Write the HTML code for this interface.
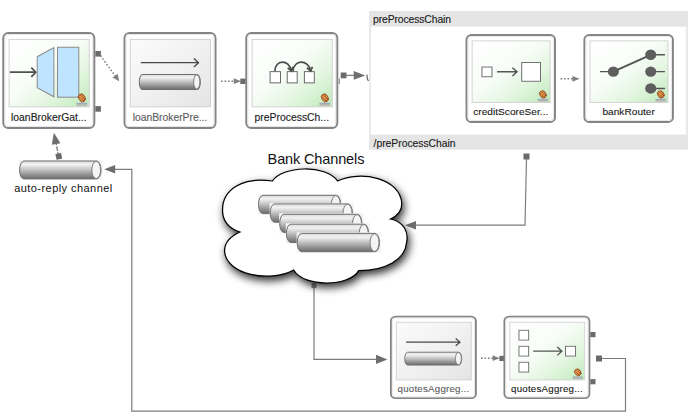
<!DOCTYPE html>
<html><head><meta charset="utf-8"><title>Loan Broker</title>
<style>
html,body{margin:0;padding:0;background:#ffffff;}
body{width:688px;height:419px;overflow:hidden;font-family:"Liberation Sans",sans-serif;}
svg{display:block;}
text{font-family:"Liberation Sans",sans-serif;}
</style></head><body>
<svg width="688" height="419" viewBox="0 0 688 419">
<defs>
<linearGradient id="greenG" x1="0" y1="0" x2="1" y2="1">
<stop offset="0" stop-color="#ffffff"/><stop offset="0.42" stop-color="#f9fdf9"/><stop offset="0.7" stop-color="#e3f6e0"/><stop offset="1" stop-color="#bde9b8"/>
</linearGradient>
<linearGradient id="greyG" x1="0" y1="0" x2="1" y2="1">
<stop offset="0" stop-color="#fbfbfb"/><stop offset="0.5" stop-color="#f1f1f1"/><stop offset="1" stop-color="#e4e4e4"/>
</linearGradient>
<linearGradient id="cylG" x1="0" y1="0" x2="0" y2="1">
<stop offset="0" stop-color="#d9d9d9"/><stop offset="0.2" stop-color="#f2f2f2"/><stop offset="0.45" stop-color="#c9c9c9"/><stop offset="0.8" stop-color="#8c8c8c"/><stop offset="1" stop-color="#6c6c6c"/>
</linearGradient>
<radialGradient id="beanG" cx="0.45" cy="0.4" r="0.65">
<stop offset="0" stop-color="#d58438"/><stop offset="0.6" stop-color="#b4561c"/><stop offset="1" stop-color="#7e3410"/>
</radialGradient>
<filter id="cloudSh" x="-15%" y="-20%" width="135%" height="145%">
<feGaussianBlur in="SourceAlpha" stdDeviation="4.2"/>
<feOffset dx="2.4" dy="4.2" result="o"/>
<feComponentTransfer><feFuncA type="linear" slope="0.82"/></feComponentTransfer>
<feMerge><feMergeNode/><feMergeNode in="SourceGraphic"/></feMerge>
</filter>
<clipPath id="beanClip"><ellipse transform="translate(72.8,58.3) rotate(-32)" cx="0" cy="0" rx="2.9" ry="3.85"/></clipPath>
</defs>
<rect x="369" y="11" width="319" height="138.5" fill="#e9e9e9"/>
<rect x="371" y="26.4" width="314.8" height="108.4" fill="#ffffff"/>
<rect x="369" y="11" width="319" height="15.4" fill="#e5e5e5"/>
<rect x="369" y="134.8" width="319" height="14.7" fill="#e5e5e5"/>
<text x="373" y="23.1" font-size="10.4" fill="#1a1a1a" stroke="#1a1a1a" stroke-width="0.12" textLength="78" lengthAdjust="spacing">preProcessChain</text>
<text x="373.6" y="146.5" font-size="10.4" fill="#1a1a1a" stroke="#1a1a1a" stroke-width="0.12" textLength="82" lengthAdjust="spacing">/preProcessChain</text>
<rect x="95.30" y="51.00" width="5.6" height="5.6" fill="#6a6a6a"/>
<rect x="95.30" y="106.10" width="5.6" height="5.6" fill="#6a6a6a"/>
<path d="M100.5,55.5 L116.2,77.3" stroke="#7c7c7c" stroke-width="1.5" stroke-dasharray="1.6,1.9" fill="none"/>
<path d="M119.20,81.20 L112.51,77.39 L117.71,73.65 Z" fill="#808080"/>
<path d="M221,81.2 H234" stroke="#7c7c7c" stroke-width="1.5" stroke-dasharray="1.6,1.9" fill="none"/>
<path d="M241.20,81.20 L233.70,84.10 L233.70,78.30 Z" fill="#808080"/>
<rect x="240.30" y="78.60" width="5.4" height="5.4" fill="#6a6a6a"/>
<rect x="338.7" y="78.4" width="1.2" height="5.8" fill="#8e8e8e"/>
<rect x="340.70" y="72.50" width="5.8" height="5.8" fill="#6a6a6a"/>
<path d="M346,75.4 H356" stroke="#7c7c7c" stroke-width="1.3" fill="none"/>
<path d="M365.20,75.40 L353.70,79.80 L353.70,71.00 Z" fill="#6e6e6e"/>
<path d="M366.9,74.6 L367.5,79.4 L368.6,80.8" stroke="#707070" stroke-width="1.3" fill="none"/>
<path d="M560.5,78.8 H573" stroke="#7c7c7c" stroke-width="1.5" stroke-dasharray="1.6,1.9" fill="none"/>
<path d="M579.60,78.80 L572.40,81.70 L572.40,75.90 Z" fill="#808080"/>
<rect x="523.50" y="153.50" width="6" height="6" fill="#6a6a6a"/>
<path d="M526.5,159 L525,225.2 H415" stroke="#7c7c7c" stroke-width="1.2" fill="none"/>
<path d="M405.00,225.20 L416.00,220.90 L416.00,229.50 Z" fill="#6e6e6e"/>
<rect x="311.50" y="283.10" width="5.0" height="5.0" fill="#858585"/>
<path d="M314,286 V359.4 H377" stroke="#7c7c7c" stroke-width="1.2" fill="none"/>
<path d="M387.40,359.40 L376.00,364.00 L376.00,354.80 Z" fill="#6e6e6e"/>
<path d="M481,358.2 H493" stroke="#7c7c7c" stroke-width="1.5" stroke-dasharray="1.6,1.9" fill="none"/>
<path d="M499.80,358.20 L492.60,361.10 L492.60,355.30 Z" fill="#808080"/>
<rect x="499.40" y="355.80" width="5.2" height="5.2" fill="#6a6a6a"/>
<rect x="590.30" y="332.00" width="5.2" height="5.2" fill="#6a6a6a"/>
<rect x="590.30" y="379.10" width="5.2" height="5.2" fill="#6a6a6a"/>
<rect x="596.00" y="355.50" width="6" height="6" fill="#6a6a6a"/>
<path d="M602,358.5 H625.5 V411.2 H131.8 V169.3 H114" stroke="#7c7c7c" stroke-width="1.2" fill="none"/>
<path d="M104.20,169.30 L115.20,165.10 L115.20,173.50 Z" fill="#6e6e6e"/>
<path d="M58.6,156.4 L55.6,141" stroke="#7c7c7c" stroke-width="1.3" stroke-dasharray="4.5,1.2" fill="none"/>
<path d="M53.90,132.80 L60.43,143.13 L51.79,144.84 Z" fill="#6e6e6e"/>
<rect x="55.90" y="153.50" width="5.8" height="5.8" fill="#6a6a6a" transform="rotate(-11 58.8 156.4)"/>
<g transform="translate(3.30,33.00) scale(1.0000,1.0032)">
<rect x="0" y="0" width="91.0" height="94.8" rx="5" ry="5" fill="#ffffff" stroke="#848484" stroke-width="2"/>
<rect x="1.6" y="1.6" width="87.8" height="91.6" rx="3.4" ry="3.4" fill="none" stroke="#e6e6e6" stroke-width="1"/>
<rect x="5.8" y="6.4" width="80.2" height="67.2" fill="url(#greenG)" stroke="#d2d2d2" stroke-width="1"/>
<g transform="translate(5.8,6.4)">
<g stroke-linejoin="miter">
<path d="M0.8,32.7 H26.4 M22.2,28.2 L26.7,32.7 L22.2,37.4" stroke="#505050" stroke-width="1.7" fill="none"/>
<path d="M28.1,17.3 L44.8,8.2 V57.2 L28.1,48.1 Z" fill="#bfe4ff" stroke="#8a8a8a" stroke-width="1"/>
<rect x="48.4" y="7.8" width="21.3" height="49.8" fill="#bfe4ff" stroke="#8a8a8a" stroke-width="1"/>
</g>
<g>
<rect x="67.4" y="63.8" width="10.6" height="2.4" fill="#bab6b2"/>
<rect x="67.4" y="63.2" width="10.6" height="0.9" fill="#929dc0"/>
<rect x="72.4" y="61.4" width="0.9" height="2.2" fill="#c9ad88"/>
<ellipse transform="translate(72.8,58.3) rotate(-32)" cx="0" cy="0" rx="3.2" ry="4.15" fill="url(#beanG)" stroke="#8a3c14" stroke-width="0.7"/>
<path d="M67.49,56.85 L75.15,63.28 M68.84,55.24 L76.50,61.67 M70.26,53.55 L77.92,59.98 " stroke="#f3c680" stroke-width="0.85" fill="none" opacity="0.9" clip-path="url(#beanClip)"/>
</g>
</g>
<text x="45.5" y="87.8" text-anchor="middle" font-size="10.4" fill="#1a1a1a" stroke="#1a1a1a" stroke-width="0.12" textLength="75.5" lengthAdjust="spacing">loanBrokerGat...</text>
</g>
<g transform="translate(124.50,33.00) scale(1.0000,1.0032)">
<rect x="0" y="0" width="91.0" height="94.8" rx="5" ry="5" fill="#ffffff" stroke="#848484" stroke-width="2"/>
<rect x="1.6" y="1.6" width="87.8" height="91.6" rx="3.4" ry="3.4" fill="none" stroke="#e6e6e6" stroke-width="1"/>
<rect x="5.8" y="6.4" width="80.2" height="67.2" fill="url(#greyG)" stroke="#d2d2d2" stroke-width="1"/>
<g transform="translate(5.8,6.4)">
<path d="M10.5,23.2 H68.0 M63.6,19.0 L68.2,23.2 L63.6,27.4" stroke="#484848" stroke-width="1.35" fill="none"/><path d="M12.15,34.90 H66.85 A3.15,7.50 0 0 1 66.85,49.90 H12.15 A3.15,7.50 0 0 1 12.15,34.90 Z" fill="url(#cylG)" stroke="#6e6e6e" stroke-width="1"/><ellipse cx="66.45" cy="42.40" rx="3.15" ry="7.20" fill="#f4f4f4" stroke="#7c7c7c" stroke-width="1"/>
</g>
<text x="45.5" y="87.8" text-anchor="middle" font-size="10.4" fill="#5c5c5c" stroke="#5c5c5c" stroke-width="0.12" textLength="74.5" lengthAdjust="spacing">loanBrokerPre...</text>
</g>
<g transform="translate(246.30,33.00) scale(1.0000,1.0032)">
<rect x="0" y="0" width="91.0" height="94.8" rx="5" ry="5" fill="#ffffff" stroke="#848484" stroke-width="2"/>
<rect x="1.6" y="1.6" width="87.8" height="91.6" rx="3.4" ry="3.4" fill="none" stroke="#e6e6e6" stroke-width="1"/>
<rect x="5.8" y="6.4" width="80.2" height="67.2" fill="url(#greenG)" stroke="#d2d2d2" stroke-width="1"/>
<g transform="translate(5.8,6.4)">
<g fill="#ffffff" stroke="#6a6a6a" stroke-width="1">
<rect x="18.0" y="32.1" width="10.4" height="11.2"/>
<rect x="35.1" y="32.1" width="10.0" height="11.2"/>
<rect x="52.3" y="32.1" width="9.9" height="11.2"/>
</g>
<g fill="none" stroke="#4a4a4a" stroke-width="1.7">
<path d="M22.8,31.6 C22.8,20 37,19.5 39.1,31.2"/>
<path d="M35.6,28.4 L39.3,31.6 L41.0,27.2"/>
<path d="M40.9,31.6 C41.5,20 56,19.5 58.4,31.2"/>
<path d="M54.8,28.4 L58.6,31.6 L60.3,27.2"/>
</g>
<g>
<rect x="67.4" y="63.8" width="10.6" height="2.4" fill="#bab6b2"/>
<rect x="67.4" y="63.2" width="10.6" height="0.9" fill="#929dc0"/>
<rect x="72.4" y="61.4" width="0.9" height="2.2" fill="#c9ad88"/>
<ellipse transform="translate(72.8,58.3) rotate(-32)" cx="0" cy="0" rx="3.2" ry="4.15" fill="url(#beanG)" stroke="#8a3c14" stroke-width="0.7"/>
<path d="M67.49,56.85 L75.15,63.28 M68.84,55.24 L76.50,61.67 M70.26,53.55 L77.92,59.98 " stroke="#f3c680" stroke-width="0.85" fill="none" opacity="0.9" clip-path="url(#beanClip)"/>
</g>
</g>
<text x="45.5" y="87.8" text-anchor="middle" font-size="10.4" fill="#1a1a1a" stroke="#1a1a1a" stroke-width="0.12" textLength="74.5" lengthAdjust="spacing">preProcessCh...</text>
</g>
<g transform="translate(466.50,35.00) scale(0.9725,0.9177)">
<rect x="0" y="0" width="91.0" height="94.8" rx="5" ry="5" fill="#ffffff" stroke="#848484" stroke-width="2"/>
<rect x="1.6" y="1.6" width="87.8" height="91.6" rx="3.4" ry="3.4" fill="none" stroke="#e6e6e6" stroke-width="1"/>
<rect x="5.8" y="6.4" width="80.2" height="67.2" fill="url(#greenG)" stroke="#d2d2d2" stroke-width="1"/>
<g transform="translate(5.8,6.4)">
<g fill="#ffffff" stroke="#6a6a6a" stroke-width="1">
<rect x="10.1" y="28.5" width="10.3" height="10.6"/>
<rect x="51.0" y="23.6" width="19.3" height="20.4"/>
</g>
<path d="M25.6,33.7 H45.9 M41.4,29.2 L46.2,33.7 L41.4,38.2" stroke="#555555" stroke-width="1.5" fill="none"/>
<g>
<rect x="67.4" y="63.8" width="10.6" height="2.4" fill="#bab6b2"/>
<rect x="67.4" y="63.2" width="10.6" height="0.9" fill="#929dc0"/>
<rect x="72.4" y="61.4" width="0.9" height="2.2" fill="#c9ad88"/>
<ellipse transform="translate(72.8,58.3) rotate(-32)" cx="0" cy="0" rx="3.2" ry="4.15" fill="url(#beanG)" stroke="#8a3c14" stroke-width="0.7"/>
<path d="M67.49,56.85 L75.15,63.28 M68.84,55.24 L76.50,61.67 M70.26,53.55 L77.92,59.98 " stroke="#f3c680" stroke-width="0.85" fill="none" opacity="0.9" clip-path="url(#beanClip)"/>
</g>
</g>
<text x="45.5" y="86.9" text-anchor="middle" font-size="10.4" fill="#1a1a1a" stroke="#1a1a1a" stroke-width="0.12" textLength="77.3" lengthAdjust="spacing">creditScoreSer...</text>
</g>
<g transform="translate(584.40,35.00) scale(0.9725,0.9177)">
<rect x="0" y="0" width="91.0" height="94.8" rx="5" ry="5" fill="#ffffff" stroke="#848484" stroke-width="2"/>
<rect x="1.6" y="1.6" width="87.8" height="91.6" rx="3.4" ry="3.4" fill="none" stroke="#e6e6e6" stroke-width="1"/>
<rect x="5.8" y="6.4" width="80.2" height="67.2" fill="url(#greenG)" stroke="#d2d2d2" stroke-width="1"/>
<g transform="translate(5.8,6.4)">
<g stroke="#555555" stroke-width="1.6" fill="none">
<path d="M10.3,33.5 H24 M62.4,15.2 H77 M62.4,33.5 H77 M62.4,51.8 H77"/><path d="M24,33.5 L62.4,15.2" stroke-width="2"/>
</g>
<g fill="#5e5e5e">
<circle cx="24" cy="33.5" r="5.7"/>
<circle cx="62.4" cy="15.2" r="5.7"/>
<circle cx="62.4" cy="33.5" r="5.7"/>
<circle cx="62.4" cy="51.8" r="5.7"/>
</g>
<g>
<rect x="67.4" y="63.8" width="10.6" height="2.4" fill="#bab6b2"/>
<rect x="67.4" y="63.2" width="10.6" height="0.9" fill="#929dc0"/>
<rect x="72.4" y="61.4" width="0.9" height="2.2" fill="#c9ad88"/>
<ellipse transform="translate(72.8,58.3) rotate(-32)" cx="0" cy="0" rx="3.2" ry="4.15" fill="url(#beanG)" stroke="#8a3c14" stroke-width="0.7"/>
<path d="M67.49,56.85 L75.15,63.28 M68.84,55.24 L76.50,61.67 M70.26,53.55 L77.92,59.98 " stroke="#f3c680" stroke-width="0.85" fill="none" opacity="0.9" clip-path="url(#beanClip)"/>
</g>
</g>
<text x="45.5" y="86.9" text-anchor="middle" font-size="10.4" fill="#1a1a1a" stroke="#1a1a1a" stroke-width="0.12" textLength="54.0" lengthAdjust="spacing">bankRouter</text>
</g>
<g transform="translate(390.90,316.70) scale(0.9341,0.8597)">
<rect x="0" y="0" width="91.0" height="94.8" rx="5" ry="5" fill="#ffffff" stroke="#848484" stroke-width="2"/>
<rect x="1.6" y="1.6" width="87.8" height="91.6" rx="3.4" ry="3.4" fill="none" stroke="#e6e6e6" stroke-width="1"/>
<rect x="5.8" y="6.4" width="80.2" height="67.2" fill="url(#greyG)" stroke="#d2d2d2" stroke-width="1"/>
<g transform="translate(5.8,6.4)">
<path d="M10.5,23.2 H68.0 M63.6,19.0 L68.2,23.2 L63.6,27.4" stroke="#484848" stroke-width="1.35" fill="none"/><path d="M12.15,34.90 H66.85 A3.15,7.50 0 0 1 66.85,49.90 H12.15 A3.15,7.50 0 0 1 12.15,34.90 Z" fill="url(#cylG)" stroke="#6e6e6e" stroke-width="1"/><ellipse cx="66.45" cy="42.40" rx="3.15" ry="7.20" fill="#f4f4f4" stroke="#7c7c7c" stroke-width="1"/>
</g>
<text x="45.5" y="87.8" text-anchor="middle" font-size="10.4" fill="#5c5c5c" stroke="#5c5c5c" stroke-width="0.12" textLength="76.6" lengthAdjust="spacing">quotesAggreg...</text>
</g>
<g transform="translate(504.40,316.70) scale(0.9341,0.8597)">
<rect x="0" y="0" width="91.0" height="94.8" rx="5" ry="5" fill="#ffffff" stroke="#848484" stroke-width="2"/>
<rect x="1.6" y="1.6" width="87.8" height="91.6" rx="3.4" ry="3.4" fill="none" stroke="#e6e6e6" stroke-width="1"/>
<rect x="5.8" y="6.4" width="80.2" height="67.2" fill="url(#greenG)" stroke="#d2d2d2" stroke-width="1"/>
<g transform="translate(5.8,6.4)">
<g fill="#ffffff" stroke="#6a6a6a" stroke-width="1">
<rect x="9.8" y="9.4" width="10.4" height="11.4"/>
<rect x="9.8" y="28.0" width="10.4" height="11.4"/>
<rect x="9.8" y="46.6" width="10.4" height="11.4"/>
<rect x="59.6" y="28.0" width="10.8" height="11.4"/>
</g>
<path d="M25,33.7 H55.4 M50.8,28.8 L55.7,33.7 L50.8,38.6" stroke="#555555" stroke-width="1.5" fill="none"/>
<g>
<rect x="67.4" y="63.8" width="10.6" height="2.4" fill="#bab6b2"/>
<rect x="67.4" y="63.2" width="10.6" height="0.9" fill="#929dc0"/>
<rect x="72.4" y="61.4" width="0.9" height="2.2" fill="#c9ad88"/>
<ellipse transform="translate(72.8,58.3) rotate(-32)" cx="0" cy="0" rx="3.2" ry="4.15" fill="url(#beanG)" stroke="#8a3c14" stroke-width="0.7"/>
<path d="M67.49,56.85 L75.15,63.28 M68.84,55.24 L76.50,61.67 M70.26,53.55 L77.92,59.98 " stroke="#f3c680" stroke-width="0.85" fill="none" opacity="0.9" clip-path="url(#beanClip)"/>
</g>
</g>
<text x="45.5" y="87.8" text-anchor="middle" font-size="10.4" fill="#1a1a1a" stroke="#1a1a1a" stroke-width="0.12" textLength="76.6" lengthAdjust="spacing">quotesAggreg...</text>
</g>
<rect x="19.0" y="160.0" width="83.4" height="19.9" fill="#f3f3f3"/><path d="M23.99,161.00 H96.61 A4.39,8.95 0 0 1 96.61,178.90 H23.99 A4.39,8.95 0 0 1 23.99,161.00 Z" fill="url(#cylG)" stroke="#6e6e6e" stroke-width="1"/><ellipse cx="96.21" cy="169.95" rx="4.39" ry="8.65" fill="#f4f4f4" stroke="#7c7c7c" stroke-width="1"/><text x="14.2" y="191.6" font-size="11" fill="#111111" textLength="98" lengthAdjust="spacing">auto-reply channel</text>
<text x="267.6" y="164.2" font-size="14.5" fill="#111111" textLength="96.8" lengthAdjust="spacing">Bank Channels</text>
<path d="M272.5,181 C282,166 326,164 337.5,181 C360,170 401,178 401.8,204 C401.8,212 397,216 390.5,219 C404,222 409,232 406.5,243 C405,259.5 386,270.5 358.7,270.6 C350,286.5 304,288 293.7,270 C270,283 226,275 224.5,251 C224.5,242 231,236 240,232 C229,228.5 222.5,221 222.5,210 C222.5,190 242,176.5 272.5,181 Z" fill="#ffffff" stroke="#000000" stroke-width="1.25" filter="url(#cloudSh)"/>
<rect x="257.9" y="194.3" width="84.2" height="20.3" fill="#f3f3f3"/><path d="M262.98,195.30 H336.22 A4.48,9.15 0 0 1 336.22,213.60 H262.98 A4.48,9.15 0 0 1 262.98,195.30 Z" fill="url(#cylG)" stroke="#6e6e6e" stroke-width="1"/><ellipse cx="335.82" cy="204.45" rx="4.48" ry="8.85" fill="#f4f4f4" stroke="#7c7c7c" stroke-width="1"/><rect x="269.6" y="202.9" width="84.2" height="20.3" fill="#f3f3f3"/><path d="M274.68,203.90 H347.92 A4.48,9.15 0 0 1 347.92,222.20 H274.68 A4.48,9.15 0 0 1 274.68,203.90 Z" fill="url(#cylG)" stroke="#6e6e6e" stroke-width="1"/><ellipse cx="347.52" cy="213.05" rx="4.48" ry="8.85" fill="#f4f4f4" stroke="#7c7c7c" stroke-width="1"/><rect x="279.1" y="213.3" width="84.2" height="20.3" fill="#f3f3f3"/><path d="M284.18,214.30 H357.42 A4.48,9.15 0 0 1 357.42,232.60 H284.18 A4.48,9.15 0 0 1 284.18,214.30 Z" fill="url(#cylG)" stroke="#6e6e6e" stroke-width="1"/><ellipse cx="357.02" cy="223.45" rx="4.48" ry="8.85" fill="#f4f4f4" stroke="#7c7c7c" stroke-width="1"/><rect x="285.8" y="223.2" width="84.2" height="20.3" fill="#f3f3f3"/><path d="M290.88,224.20 H364.12 A4.48,9.15 0 0 1 364.12,242.50 H290.88 A4.48,9.15 0 0 1 290.88,224.20 Z" fill="url(#cylG)" stroke="#6e6e6e" stroke-width="1"/><ellipse cx="363.72" cy="233.35" rx="4.48" ry="8.85" fill="#f4f4f4" stroke="#7c7c7c" stroke-width="1"/><rect x="296.6" y="232.4" width="84.2" height="20.3" fill="#f3f3f3"/><path d="M301.68,233.40 H374.92 A4.48,9.15 0 0 1 374.92,251.70 H301.68 A4.48,9.15 0 0 1 301.68,233.40 Z" fill="url(#cylG)" stroke="#6e6e6e" stroke-width="1"/><ellipse cx="374.52" cy="242.55" rx="4.48" ry="8.85" fill="#f4f4f4" stroke="#7c7c7c" stroke-width="1"/></svg>
</body></html>
